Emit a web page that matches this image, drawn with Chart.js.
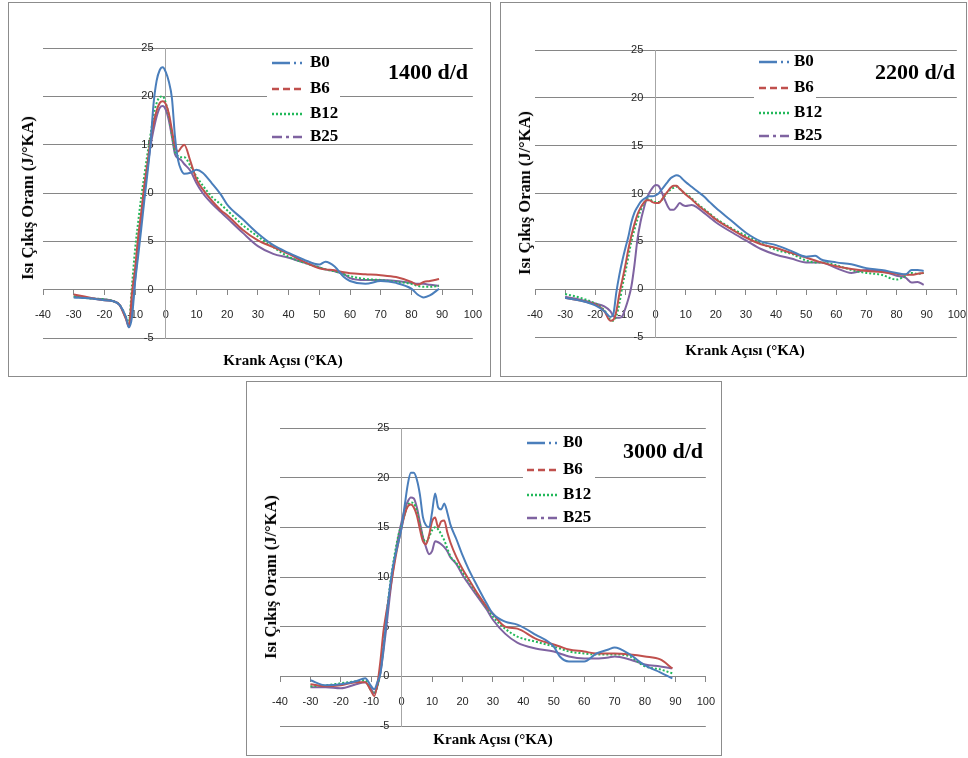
<!DOCTYPE html>
<html>
<head>
<meta charset="utf-8">
<script src="https://cdn.jsdelivr.net/npm/chart.js@4.4.0/dist/chart.umd.min.js"></script>
<style>
  body { margin: 0; background: #fff; width: 968px; height: 758px; position: relative; overflow: hidden; font-family: "Liberation Serif", serif; }
  .panel { position: absolute; border: 1px solid #8c8c8c; box-sizing: border-box; background: #fff; }
  .panel canvas { position: absolute; left: 0; top: 0; }
  .ytitle, .xtitle, .rpm { position: absolute; font-weight: bold; white-space: nowrap; color: #000; }
  .ytitle { font-size: 16.5px; transform: translate(-50%, -50%) rotate(-90deg); }
  .xtitle { font-size: 15px; transform: translate(-50%, -50%); }
  .rpm { font-size: 22px; transform: translate(-50%, -50%); }
</style>
</head>
<body>

<div class="panel" style="left:8px;top:2px;width:483px;height:375px">
  <canvas id="c1400" width="487" height="373"></canvas>
  <div class="ytitle" style="left:19px;top:195px">Isı Çıkış Oranı (J/°KA)</div>
  <div class="xtitle" style="left:274px;top:357px">Krank Açısı (°KA)</div>
  <div class="rpm" style="left:419px;top:69px">1400 d/d</div>
</div>

<div class="panel" style="left:500px;top:2px;width:467px;height:375px">
  <canvas id="c2200" width="479" height="373"></canvas>
  <div class="ytitle" style="left:24px;top:190px">Isı Çıkış Oranı (J/°KA)</div>
  <div class="xtitle" style="left:244px;top:347px">Krank Açısı (°KA)</div>
  <div class="rpm" style="left:414px;top:69px">2200 d/d</div>
</div>

<div class="panel" style="left:246px;top:381px;width:476px;height:375px">
  <canvas id="c3000" width="482" height="373"></canvas>
  <div class="ytitle" style="left:24px;top:195px">Isı Çıkış Oranı (J/°KA)</div>
  <div class="xtitle" style="left:246px;top:357px">Krank Açısı (°KA)</div>
  <div class="rpm" style="left:416px;top:69px">3000 d/d</div>
</div>

<script>
// series names and axis ticks
const seriesNames = ['B0', 'B6', 'B12', 'B25'];
const xMin = -40, xMax = 100, xStep = 10;
const yMin = -5, yMax = 25, yStep = 5;

// 1400 d/d
const angles1400 = [-30,-25,-20,-17,-15,-13,-12,-11,-10,-9,-8,-7,-6,-5,-4,-3,-2,-1,0,1,2,3,4,5,6,8,10,12,15,18,20,25,30,35,40,45,50,52,55,58,60,65,70,75,80,82,84,86,89];
const b0_1400 = [-0.8,-0.9,-1.1,-1.2,-1.6,-2.8,-3.9,-2.8,0.8,3.5,6.3,9.2,12.0,15.0,19.2,21.6,22.7,23.0,22.5,21.5,19.8,15.8,13.4,12.4,12.0,12.1,12.4,12.1,11.0,9.8,8.8,7.3,5.8,4.6,3.8,3.1,2.6,2.9,2.4,1.3,0.9,0.6,0.9,0.7,0.1,-0.5,-0.8,-0.6,0.1];
const b6_1400 = [-0.5,-0.8,-1.1,-1.2,-1.6,-3.0,-3.7,-0.3,2.2,5.5,8.0,10.8,13.0,15.5,17.2,18.5,19.3,19.5,19.2,18.2,16.5,14.8,14.3,14.7,15.0,13.3,11.4,10.4,9.2,8.2,7.7,6.2,5.1,4.4,3.7,2.9,2.2,2.1,2.0,1.8,1.7,1.6,1.5,1.3,0.8,0.5,0.8,0.9,1.1];
const b12_1400 = [-0.7,-0.9,-1.0,-1.2,-1.6,-2.8,-3.2,0.5,4.2,7.0,9.6,11.8,14.0,16.0,18.0,19.3,19.9,20.0,19.3,18.0,16.0,14.3,13.8,13.7,13.7,12.8,11.7,10.8,9.6,8.8,8.2,6.7,5.5,4.4,3.4,2.8,2.3,2.1,1.9,1.6,1.4,1.1,1.0,0.8,0.6,0.4,0.3,0.3,0.4];
const b25_1400 = [-0.7,-0.9,-1.0,-1.2,-1.6,-3.0,-3.9,-2.0,1.0,4.2,7.5,10.0,12.5,14.8,16.5,17.9,18.8,19.0,18.6,17.5,15.8,14.0,13.6,13.4,13.0,12.3,11.0,10.0,8.9,8.0,7.4,5.9,4.5,3.7,3.3,2.8,2.3,2.1,1.9,1.6,1.2,1.0,1.0,0.9,0.7,0.6,0.6,0.5,0.4];

// 2200 d/d
const angles2200 = [-30,-25,-20,-17,-15,-14,-13,-12,-11,-10,-9,-8,-7,-6,-5,-4,-3,-2,-1,0,1,2,3,4,5,6,7,8,9,10,12,14,16,18,20,25,30,35,40,45,50,53,55,60,65,70,75,80,83,85,87,89];
const b0_2200 = [-0.9,-1.2,-1.7,-2.3,-2.9,-2.6,-0.3,1.5,3.0,4.3,5.5,7.0,8.0,8.6,9.1,9.4,9.6,9.7,9.7,9.8,10.0,10.4,10.8,11.2,11.6,11.8,11.9,11.8,11.5,11.2,10.7,10.2,9.7,9.1,8.5,7.2,5.9,5.0,4.6,4.0,3.4,3.5,3.1,2.8,2.6,2.2,2.0,1.7,1.55,2.0,2.0,1.9];
const b6_2200 = [-0.9,-1.2,-1.6,-2.3,-3.3,-3.2,-2.3,-0.5,1.0,2.5,4.2,5.6,6.8,7.8,8.5,9.0,9.3,9.3,9.1,9.0,9.0,9.3,9.8,10.2,10.6,10.8,10.8,10.5,10.2,9.9,9.4,8.8,8.3,7.8,7.3,6.3,5.4,4.7,4.3,3.8,3.3,3.0,2.8,2.4,2.1,1.9,1.8,1.6,1.5,1.5,1.6,1.7];
const b12_2200 = [-0.5,-0.9,-1.5,-2.2,-3.2,-3.3,-2.8,-1.5,0.3,1.8,3.4,5.0,6.2,7.3,8.2,8.9,9.3,9.4,9.2,9.1,9.1,9.3,9.7,10.1,10.4,10.6,10.7,10.5,10.2,10.0,9.5,8.9,8.4,7.9,7.4,6.4,5.6,4.8,4.1,3.7,3.0,2.8,2.8,2.5,2.0,1.7,1.5,1.0,1.4,1.7,1.6,1.7];
const b25_2200 = [-0.8,-1.1,-1.5,-1.8,-2.3,-2.8,-3.0,-3.0,-2.8,-2.0,-1.0,0.3,2.5,5.2,7.0,8.3,9.4,10.1,10.6,10.9,10.8,10.2,9.4,8.7,8.3,8.3,8.6,9.0,8.8,8.7,8.8,8.5,8.0,7.5,7.0,6.0,5.1,4.2,3.6,3.2,2.8,2.8,2.8,2.2,1.7,2.0,1.9,1.4,1.2,0.7,0.75,0.45];

// 3000 d/d
const angles3000 = [-30,-25,-20,-15,-12,-10,-9,-8,-7,-6,-5,-4,-3,-2,-1,0,1,2,3,4,5,6,7,8,9,10,11,12,13,14,15,16,18,20,22,25,28,30,34,38,44,50,52,55,60,64,68,70,75,80,85,89];
const b0_3000 = [-0.4,-0.9,-0.8,-0.5,-0.2,-1.0,-1.3,-0.6,0.3,2.8,5.8,8.6,10.8,12.3,13.6,15.0,17.2,19.3,20.5,20.5,19.8,18.3,16.0,15.2,15.0,16.5,18.4,17.0,16.8,17.4,16.5,15.3,13.8,12.2,10.8,9.0,7.3,6.3,5.5,5.2,4.2,3.0,2.0,1.5,1.5,2.3,2.7,2.9,2.2,1.1,0.4,-0.2];
const b6_3000 = [-0.8,-1.0,-0.9,-0.6,-0.6,-1.5,-2.0,-0.8,1.5,4.5,6.5,8.3,10.2,12.0,13.6,15.0,16.3,17.1,17.3,17.0,16.2,14.8,13.6,13.3,14.2,15.6,16.0,15.0,15.6,15.7,14.5,13.5,12.0,10.8,9.8,8.3,7.0,6.3,5.0,4.8,3.8,3.2,3.0,2.7,2.5,2.3,2.3,2.3,2.2,2.0,1.7,0.8];
const b12_3000 = [-1.0,-0.9,-0.7,-0.5,-0.4,-1.5,-1.7,-1.0,0.5,3.0,6.0,8.8,11.0,12.8,14.3,15.3,16.3,17.2,17.5,17.4,16.6,15.2,14.0,13.5,14.0,14.7,15.0,14.8,14.3,13.7,12.9,12.1,11.4,10.5,9.6,8.2,6.9,6.0,4.8,4.0,3.5,3.0,2.8,2.5,2.3,2.2,2.2,2.2,2.0,1.0,0.7,0.3];
const b25_3000 = [-1.1,-1.1,-1.2,-0.8,-0.6,-1.3,-1.7,-1.0,0.3,2.5,5.0,7.8,10.3,12.4,14.2,15.6,16.8,17.6,18.0,17.9,17.0,15.5,14.0,13.0,12.3,12.6,13.6,13.5,13.3,13.0,12.6,12.0,11.3,10.2,9.3,8.0,6.7,5.7,4.3,3.4,2.8,2.5,2.3,2.0,1.8,1.8,1.9,2.0,1.7,1.2,1.0,0.8];

// Excel-like styles
const lineColors = ['#4a7ebb', '#c0504d', '#22b85a', '#7f63a1'];
const lineDashes = [[], [], [2, 2], []];
const legendDashes = [[18, 4, 2, 4, 2, 4], [7, 4], [2, 2], [10, 4, 3, 4]];
const gridColor = '#868686';

Chart.defaults.font.family = '"Liberation Sans", Arial, sans-serif';
Chart.defaults.color = '#262626';

// legend drawn inside the plot, on a white box that hides the grid line
const boxLegend = {
  id: 'boxLegend',
  afterDatasetsDraw(chart, args, opts) {
    const ctx = chart.ctx;
    ctx.save();
    ctx.fillStyle = '#fff';
    ctx.fillRect(opts.boxX, opts.boxY, opts.boxW, opts.boxH);
    chart.data.datasets.forEach((ds, i) => {
      const y = opts.rows[i];
      ctx.strokeStyle = ds.borderColor;
      ctx.lineWidth = 2.5;
      ctx.setLineDash(legendDashes[i]);
      ctx.beginPath();
      ctx.moveTo(opts.lineX, y);
      ctx.lineTo(opts.lineX + 30, y);
      ctx.stroke();
      ctx.setLineDash([]);
      ctx.fillStyle = '#000';
      ctx.font = 'bold 17px "Liberation Serif", serif';
      ctx.textBaseline = 'middle';
      ctx.textAlign = 'left';
      ctx.fillText(ds.label, opts.textX, y);
    });
    ctx.restore();
  }
};

function buildChart(id, angles, series, padding, legend) {
  const datasets = seriesNames.map((name, i) => ({
    label: name,
    data: angles.map((a, k) => ({ x: a, y: series[i][k] })),
    borderColor: lineColors[i],
    borderWidth: 2,
    borderDash: lineDashes[i],
    pointRadius: 0,
    cubicInterpolationMode: 'monotone',
    fill: false
  }));

  new Chart(document.getElementById(id), {
    type: 'line',
    data: { datasets },
    plugins: [boxLegend],
    options: {
      responsive: false,
      animation: false,
      devicePixelRatio: 1,
      layout: { padding },
      plugins: {
        legend: { display: false },
        tooltip: { enabled: false },
        boxLegend: legend
      },
      scales: {
        x: {
          type: 'linear',
          position: { y: 0 },
          min: xMin, max: xMax,
          ticks: { stepSize: xStep, padding: 14, font: { size: 11 }, maxRotation: 0 },
          grid: { drawOnChartArea: false, drawTicks: true, tickLength: 5, color: gridColor },
          border: { display: true, color: gridColor, width: 1 }
        },
        y: {
          type: 'linear',
          position: { x: 0 },
          min: yMin, max: yMax,
          ticks: {
            stepSize: yStep,
            font: { size: 11 },
            callback: v => v + '\u00a0\u00a0\u00a0\u00a0'
          },
          grid: { drawTicks: false, color: gridColor, lineWidth: 1 },
          border: { display: true, color: '#a6a6a6', width: 1 }
        }
      }
    }
  });
}

buildChart('c1400', angles1400, [b0_1400, b6_1400, b12_1400, b25_1400],
  { left: 34, right: 23, top: 45, bottom: 38 },
  { boxX: 258, boxY: 49, boxW: 73, boxH: 90, lineX: 263, textX: 301, rows: [60, 86, 111, 134] });

buildChart('c2200', angles2200, [b0_2200, b6_2200, b12_2200, b25_2200],
  { left: 34, right: 23, top: 47, bottom: 39 },
  { boxX: 253, boxY: 49, boxW: 62, boxH: 90, lineX: 258, textX: 293, rows: [59, 85, 110, 133] });

buildChart('c3000', angles3000, [b0_3000, b6_3000, b12_3000, b25_3000],
  { left: 33, right: 23, top: 46, bottom: 29 },
  { boxX: 276, boxY: 49, boxW: 72, boxH: 90, lineX: 280, textX: 316, rows: [61, 88, 113, 136] });
</script>
</body>
</html>
